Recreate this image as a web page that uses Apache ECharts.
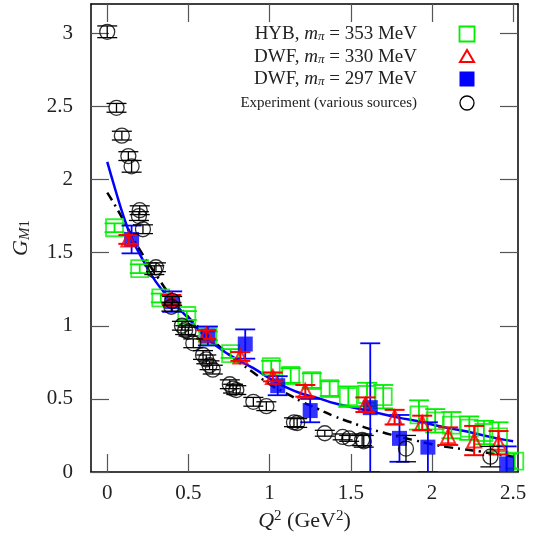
<!DOCTYPE html>
<html>
<head>
<meta charset="utf-8">
<script src="https://cdn.jsdelivr.net/npm/echarts@6/dist/echarts.min.js"></script>
<style>html,body{margin:0;padding:0;background:#fff}#c{width:540px;height:540px}</style>
</head>
<body>
<div id="c"></div>
<script>
// ---- tick labels ----
const xTicks = [0, 0.5, 1, 1.5, 2, 2.5];
const yTicks = [0, 0.5, 1, 1.5, 2, 2.5, 3];

// ---- Experiment (various sources) ----
const expX   = [0.0, 0.057, 0.09, 0.13, 0.15, 0.195, 0.20, 0.22, 0.29, 0.30, 0.395, 0.40, 0.46, 0.48, 0.50, 0.53, 0.59, 0.61, 0.63, 0.65, 0.755, 0.775, 0.795, 0.90, 0.98, 1.15, 1.17, 1.34, 1.45, 1.49, 1.57, 1.58, 1.84, 2.36];
const expY   = [3.01, 2.49, 2.30, 2.16, 2.09, 1.75, 1.79, 1.66, 1.38, 1.40, 1.13, 1.17, 1.00, 0.97, 0.96, 0.88, 0.80, 0.77, 0.73, 0.70, 0.60, 0.57, 0.56, 0.48, 0.45, 0.34, 0.335, 0.265, 0.24, 0.23, 0.22, 0.21, 0.16, 0.105];
const expErr = [0.04, 0.03, 0.03, 0.03, 0.04, 0.03, 0.03, 0.03, 0.03, 0.03, 0.03, 0.03, 0.03, 0.03, 0.03, 0.03, 0.03, 0.03, 0.03, 0.03, 0.03, 0.03, 0.03, 0.03, 0.03, 0.03, 0.03, 0.02, 0.02, 0.02, 0.04, 0.04, 0.09, 0.07];

// ---- HYB, m_pi = 353 MeV ----
const hybX   = [0.045, 0.20, 0.33, 0.49, 0.62, 0.76, 1.01, 1.13, 1.26, 1.37, 1.485, 1.60, 1.70, 1.92, 2.02, 2.12, 2.23, 2.32, 2.41, 2.51];
const hybY   = [1.67, 1.39, 1.19, 1.07, 0.93, 0.81, 0.72, 0.66, 0.625, 0.57, 0.515, 0.53, 0.515, 0.39, 0.35, 0.32, 0.30, 0.27, 0.24, 0.075];
const hybErr = [0.03, 0.03, 0.03, 0.03, 0.03, 0.03, 0.04, 0.05, 0.05, 0.05, 0.07, 0.08, 0.08, 0.10, 0.08, 0.09, 0.08, 0.08, 0.10, 0.05];

// ---- DWF, m_pi = 330 MeV ----
const d330X   = [0.13, 0.395, 0.61, 0.82, 1.02, 1.22, 1.59, 1.77, 1.94, 2.10, 2.26, 2.41];
const d330Y   = [1.59, 1.18, 0.94, 0.79, 0.65, 0.555, 0.46, 0.375, 0.335, 0.245, 0.215, 0.20];
const d330Err = [0.03, 0.03, 0.03, 0.03, 0.03, 0.04, 0.05, 0.05, 0.05, 0.06, 0.10, 0.08];

// ---- DWF, m_pi = 297 MeV ----
const d297X   = [0.15, 0.40, 0.62, 0.85, 1.05, 1.25, 1.62, 1.80, 1.975, 2.46];
const d297Y   = [1.59, 1.165, 0.93, 0.875, 0.59, 0.42, 0.44, 0.23, 0.17, 0.055];
const d297Err = [0.095, 0.07, 0.065, 0.10, 0.065, 0.08, 0.44, 0.16, 0.17, 0.12];

// ---- fit curves ----
const blueCurveX = [0, 0.05, 0.1, 0.15, 0.2, 0.3, 0.4, 0.5, 0.6, 0.7, 0.8, 0.9, 1.0, 1.1, 1.2, 1.3, 1.4, 1.5, 1.6, 1.7, 1.8, 1.9, 2.0, 2.1, 2.2, 2.3, 2.4, 2.5];
const blueCurveY = [2.12, 1.93, 1.75, 1.60, 1.49, 1.30, 1.17, 1.05, 0.93, 0.84, 0.77, 0.71, 0.64, 0.58, 0.535, 0.505, 0.47, 0.445, 0.42, 0.395, 0.37, 0.35, 0.325, 0.30, 0.28, 0.255, 0.23, 0.21];
const blackCurveX = [0, 0.05, 0.1, 0.2, 0.3, 0.4, 0.5, 0.6, 0.7, 0.8, 0.9, 1.0, 1.1, 1.2, 1.3, 1.4, 1.5, 1.6, 1.7, 1.8, 1.9, 2.0, 2.1, 2.2, 2.3, 2.4, 2.5];
const blackCurveY = [1.91, 1.82, 1.72, 1.52, 1.35, 1.19, 1.06, 0.95, 0.85, 0.76, 0.68, 0.60, 0.54, 0.48, 0.43, 0.38, 0.34, 0.30, 0.27, 0.24, 0.215, 0.19, 0.17, 0.155, 0.14, 0.12, 0.105];

const FONT = '"Liberation Serif", "DejaVu Serif", serif';
const zip = (a, b) => a.map((v, i) => [v, b[i]]);
const zip3 = (a, b, c) => a.map((v, i) => [v, b[i], c[i]]);

function errSeries(data, color, width, cap, z) {
  return {
    type: 'custom', z: z, silent: true, clip: true,
    data: data,
    renderItem: function (params, api) {
      const x = api.value(0), y = api.value(1), e = api.value(2);
      const top = api.coord([x, y + e]);
      const bot = api.coord([x, y - e]);
      const st = { stroke: color, lineWidth: width };
      return {
        type: 'group',
        children: [
          { type: 'line', shape: { x1: top[0], y1: top[1], x2: bot[0], y2: bot[1] }, style: st },
          { type: 'line', shape: { x1: top[0] - cap, y1: top[1], x2: top[0] + cap, y2: top[1] }, style: st },
          { type: 'line', shape: { x1: bot[0] - cap, y1: bot[1], x2: bot[0] + cap, y2: bot[1] }, style: st }
        ]
      };
    }
  };
}

const chart = echarts.init(document.getElementById('c'), null, { renderer: 'canvas' });

const axisCommon = {
  type: 'value',
  splitLine: { show: false },
  axisLine: { show: true, onZero: false, lineStyle: { color: '#000', width: 1.5 } }
};

const labelRich = {
  i: { fontFamily: FONT, fontStyle: 'italic', fontSize: 22, color: '#222' },
  n: { fontFamily: FONT, fontSize: 22, color: '#222' },
  sup: { fontFamily: FONT, fontSize: 15, color: '#222', padding: [0, 0, 10, 0] },
  subi: { fontFamily: FONT, fontStyle: 'italic', fontSize: 15, color: '#222', padding: [8, 0, 0, 0] },
  sub: { fontFamily: FONT, fontSize: 15, color: '#222', padding: [8, 0, 0, 0] }
};

const legendRich = {
  i: { fontFamily: FONT, fontStyle: 'italic', fontSize: 19, fill: '#222' },
  sub: { fontFamily: FONT, fontStyle: 'italic', fontSize: 13, fill: '#222', padding: [6, 0, 0, 0] },
  n: { fontFamily: FONT, fontSize: 19, fill: '#222' }
};

const legendX = 417, markX = 467;
const legendRows = [34, 57, 79, 103];

chart.setOption({
  animation: false,
  backgroundColor: '#fff',
  grid: { left: 91, right: 22, top: 4, bottom: 68, show: false },
  xAxis: [
    Object.assign({}, axisCommon, {
      min: -0.1, max: 2.53, position: 'bottom',
      axisTick: { show: true, inside: true, length: 18, customValues: xTicks, lineStyle: { color: '#555', width: 1.2 } },
      axisLabel: { customValues: xTicks, formatter: v => String(v), fontFamily: FONT, fontSize: 21, color: '#222', margin: 11 },
      name: '{i|Q}{sup|2}{n| (GeV}{sup|2}{n|)}', nameLocation: 'middle', nameGap: 34,
      nameTextStyle: { rich: labelRich }
    }),
    Object.assign({}, axisCommon, {
      min: -0.1, max: 2.53, position: 'top',
      axisTick: { show: true, inside: true, length: 18, customValues: xTicks, lineStyle: { color: '#555', width: 1.2 } },
      axisLabel: { show: false }
    })
  ],
  yAxis: [
    Object.assign({}, axisCommon, {
      min: 0, max: 3.2, position: 'left',
      axisTick: { show: true, inside: true, length: 18, customValues: yTicks, lineStyle: { color: '#555', width: 1.2 } },
      axisLabel: { customValues: yTicks, formatter: v => String(v), fontFamily: FONT, fontSize: 21, color: '#222', margin: 18 },
      name: '{i|G}{subi|M}{sub|1}', nameLocation: 'middle', nameGap: 58, nameRotate: 90,
      nameTextStyle: { rich: labelRich }
    }),
    Object.assign({}, axisCommon, {
      min: 0, max: 3.2, position: 'right',
      axisTick: { show: true, inside: true, length: 18, customValues: yTicks, lineStyle: { color: '#555', width: 1.2 } },
      axisLabel: { show: false }
    })
  ],
  series: [
    { type: 'line', data: zip(blackCurveX, blackCurveY), showSymbol: false, smooth: true, z: 2,
      lineStyle: { color: '#000', width: 2.5, type: [9, 5, 2, 5] } },
    { type: 'line', data: zip(blueCurveX, blueCurveY), showSymbol: false, smooth: true, z: 2,
      lineStyle: { color: '#0000ff', width: 2.5 } },

    errSeries(zip3(hybX, hybY, hybErr), '#00ee00', 1.8, 10, 3),
    { type: 'scatter', data: zip(hybX, hybY), symbol: 'rect', symbolSize: 17, z: 3,
      itemStyle: { color: 'rgba(0,0,0,0)', borderColor: '#00ee00', borderWidth: 1.8 } },

    errSeries(zip3(d297X, d297Y, d297Err), '#0000ff', 1.8, 10, 4),
    { type: 'scatter', data: zip(d297X, d297Y), symbol: 'rect', symbolSize: 15, z: 4,
      itemStyle: { color: '#0000ff' } },

    errSeries(zip3(d330X, d330Y, d330Err), '#ff0000', 2, 10, 5),
    { type: 'scatter', data: zip(d330X, d330Y), symbol: 'triangle', symbolSize: 14, z: 5,
      itemStyle: { color: 'rgba(0,0,0,0)', borderColor: '#ff0000', borderWidth: 2 } },

    errSeries(zip3(expX, expY, expErr), '#000', 1.3, 10, 6),
    { type: 'scatter', data: zip(expX, expY), symbol: 'circle', symbolSize: 15, z: 6,
      itemStyle: { color: 'rgba(0,0,0,0)', borderColor: '#000', borderWidth: 1.3 } }
  ],
  graphic: [
    { type: 'text', x: legendX, y: legendRows[0], style: { text: '{n|HYB, }{i|m}{sub|π}{n| = 353 MeV}', rich: legendRich, align: 'right', verticalAlign: 'middle' } },
    { type: 'text', x: legendX, y: legendRows[1], style: { text: '{n|DWF, }{i|m}{sub|π}{n| = 330 MeV}', rich: legendRich, align: 'right', verticalAlign: 'middle' } },
    { type: 'text', x: legendX, y: legendRows[2], style: { text: '{n|DWF, }{i|m}{sub|π}{n| = 297 MeV}', rich: legendRich, align: 'right', verticalAlign: 'middle' } },
    { type: 'text', x: legendX, y: legendRows[3], style: { text: 'Experiment (various sources)', font: '15px ' + FONT, fill: '#222', align: 'right', verticalAlign: 'middle' } },
    { type: 'rect', shape: { x: markX - 7.5, y: legendRows[0] - 7.5, width: 15, height: 15 }, style: { fill: 'none', stroke: '#00ee00', lineWidth: 1.8 } },
    { type: 'polygon', shape: { points: [[markX, legendRows[1] - 7], [markX - 7, legendRows[1] + 5], [markX + 7, legendRows[1] + 5]] }, style: { fill: 'none', stroke: '#ff0000', lineWidth: 2 } },
    { type: 'rect', shape: { x: markX - 7.5, y: legendRows[2] - 7.5, width: 15, height: 15 }, style: { fill: '#0000ff' } },
    { type: 'circle', shape: { cx: markX, cy: legendRows[3], r: 7 }, style: { fill: 'none', stroke: '#000', lineWidth: 1.3 } }
  ]
});
</script>
</body>
</html>
